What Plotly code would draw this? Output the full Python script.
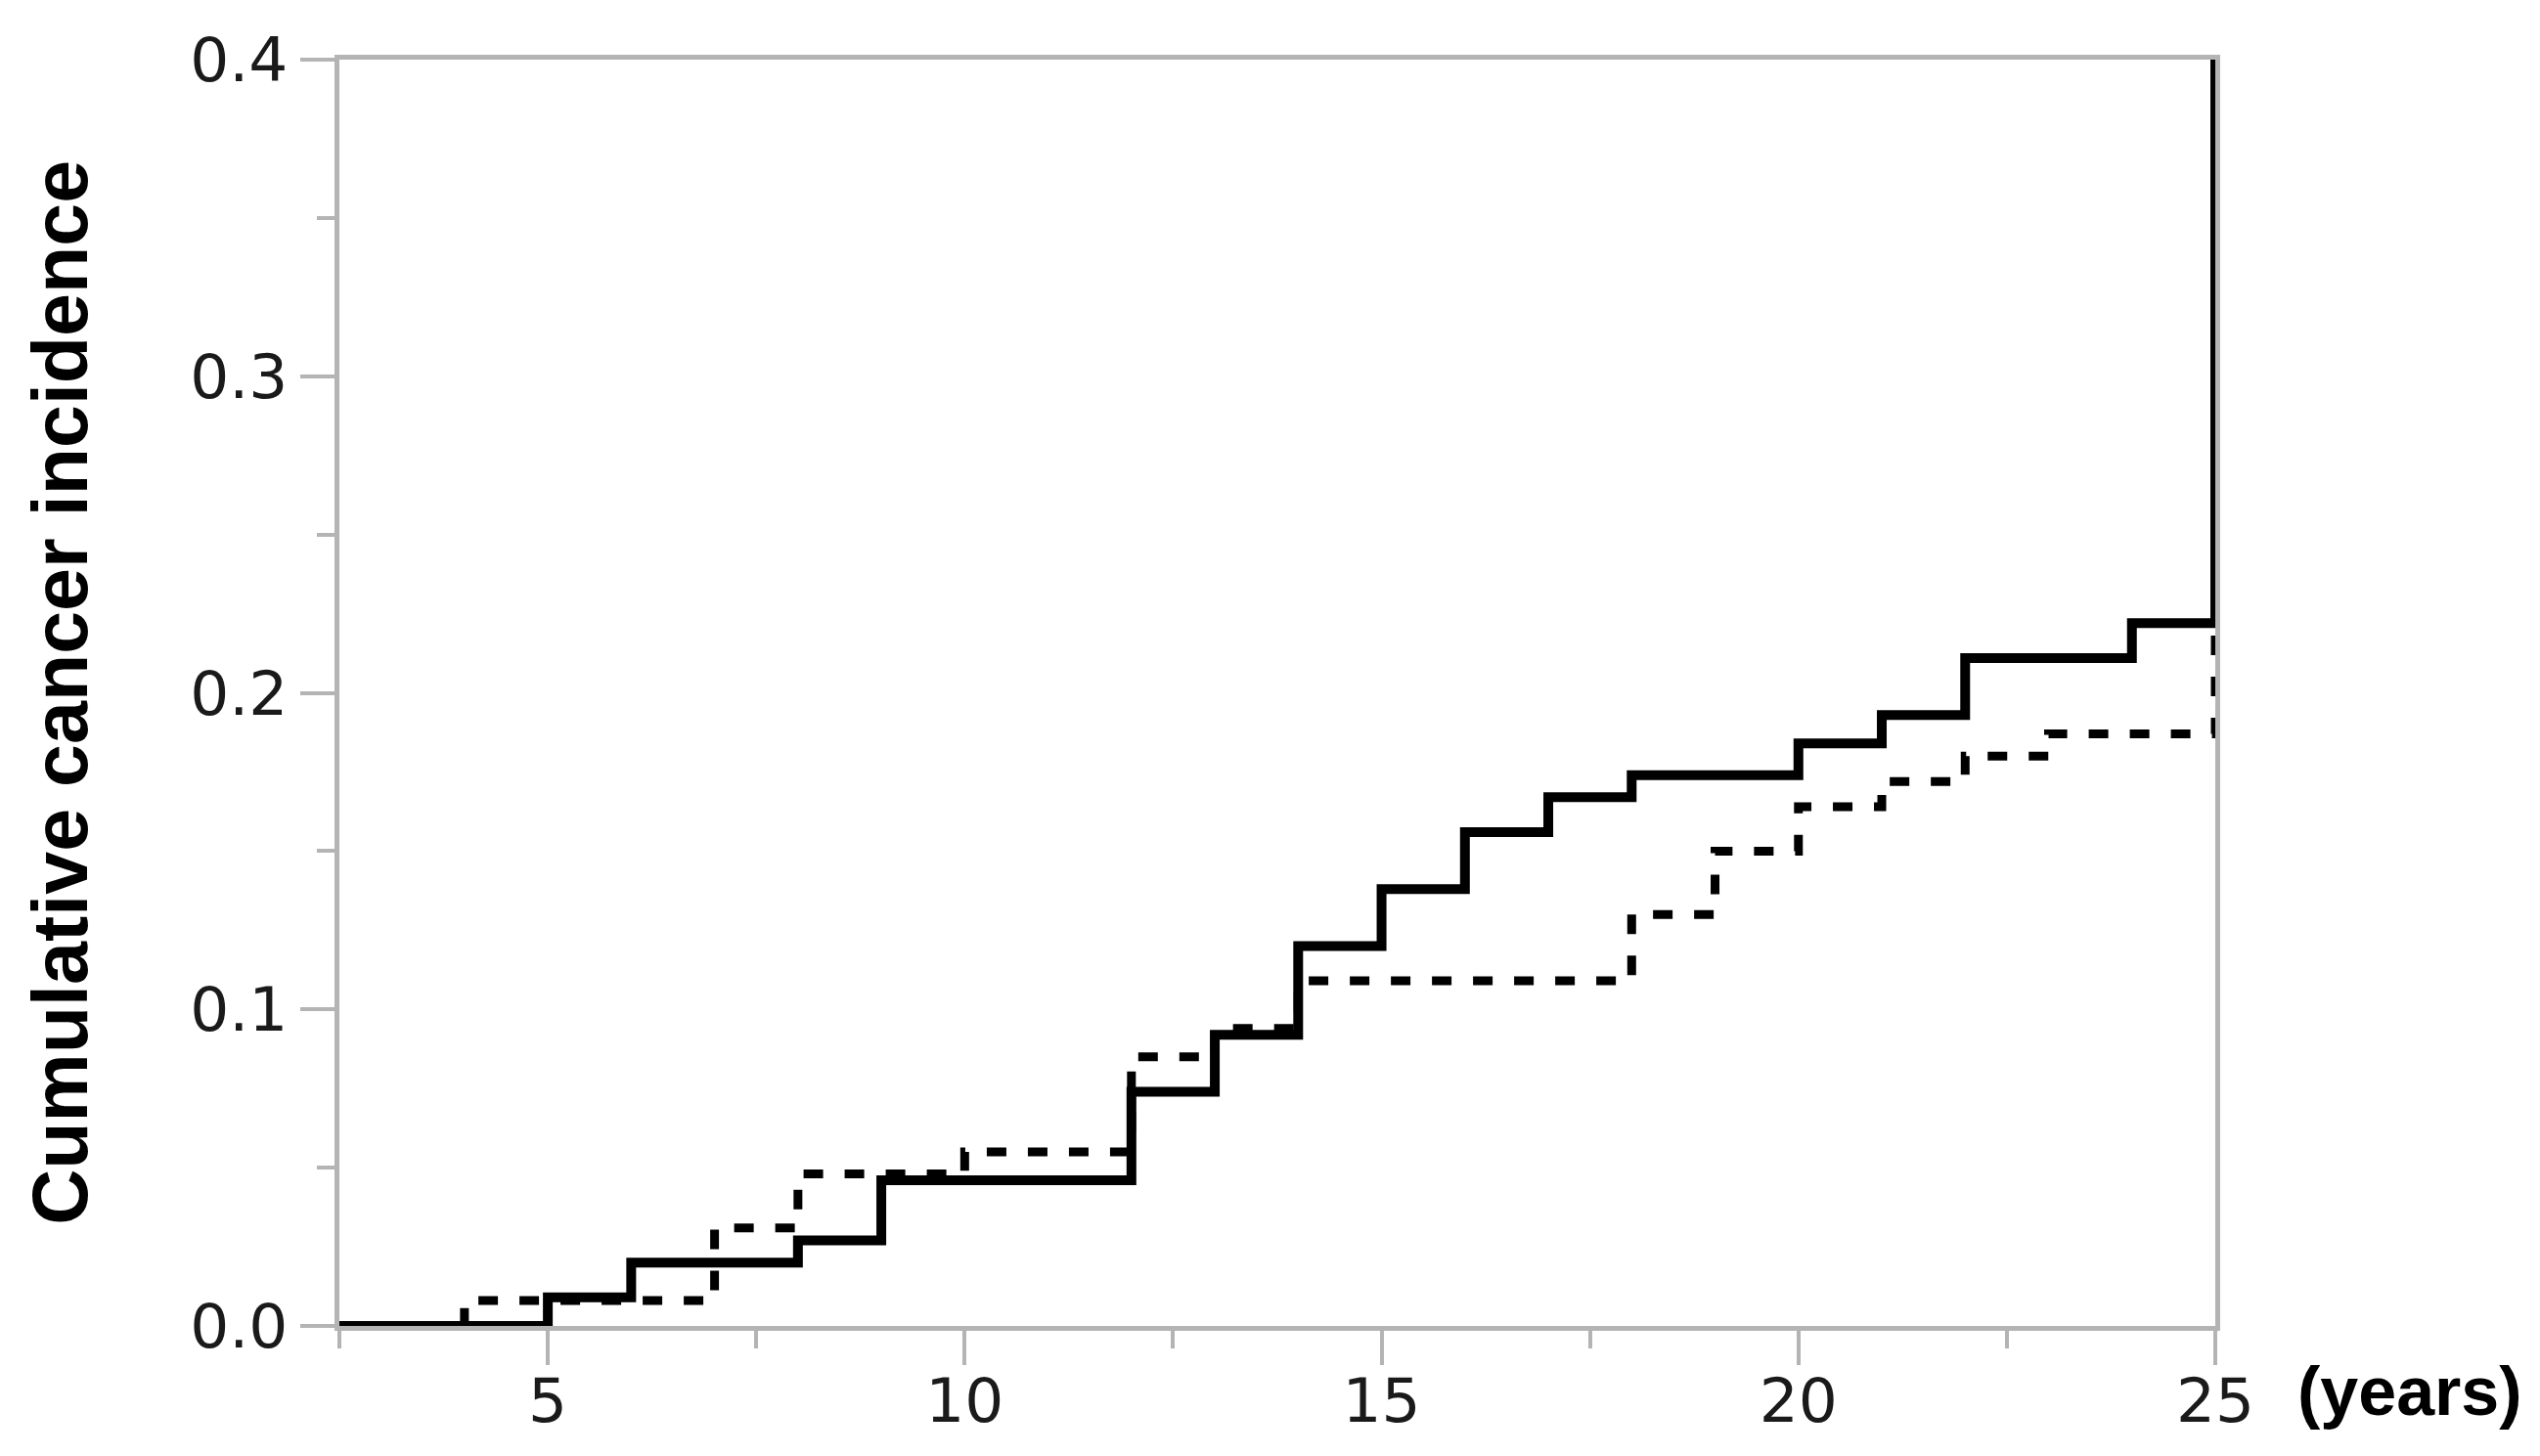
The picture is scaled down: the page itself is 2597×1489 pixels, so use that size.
import plotly.graph_objects as go

# step points (year of step, cumulative incidence after the step)
solid_years = [2.5, 5, 6, 8, 9, 12, 13, 14, 15, 16, 17, 18, 20, 21, 22, 24, 25]
solid_inc = [0.0, 0.009, 0.020, 0.027, 0.046, 0.074, 0.092, 0.120, 0.138, 0.156,
             0.167, 0.174, 0.184, 0.193, 0.211, 0.222, 0.4]

dashed_years = [2.5, 4, 7, 8, 10, 12, 13, 14, 18, 19, 20, 21, 22, 23, 25]
dashed_inc = [0.0, 0.008, 0.031, 0.048, 0.055, 0.085, 0.094, 0.109, 0.130, 0.150,
              0.164, 0.172, 0.180, 0.187, 0.222]

x_ticks = [5, 10, 15, 20, 25]
x_minor = [2.5, 7.5, 12.5, 17.5, 22.5]
y_ticks = [0.0, 0.1, 0.2, 0.3, 0.4]
y_minor = [0.05, 0.15, 0.25, 0.35]

axis_grey = '#b4b4b4'
tick_font = dict(family='DejaVu Sans', size=63, color='#1a1a1a')

fig = go.Figure()

fig.add_trace(go.Scatter(
    x=dashed_years, y=dashed_inc,
    mode='lines',
    line=dict(shape='hv', color='black', width=9, dash='20px,22px'),
    showlegend=False
))

fig.add_trace(go.Scatter(
    x=solid_years, y=solid_inc,
    mode='lines',
    line=dict(shape='hv', color='black', width=10),
    showlegend=False
))

fig.update_layout(
    width=2597, height=1489,
    margin=dict(l=339, r=340, t=53, b=141),
    paper_bgcolor='white', plot_bgcolor='white',
    xaxis=dict(
        range=[2.5, 25], tickmode='array', tickvals=x_ticks,
        showgrid=False, zeroline=False,
        showline=True, linecolor=axis_grey, linewidth=5, mirror=True,
        ticks='outside', ticklen=35, tickwidth=4, tickcolor=axis_grey,
        minor=dict(tickvals=x_minor, ticks='outside', ticklen=18, tickwidth=4, tickcolor=axis_grey),
        tickfont=tick_font, ticklabelstandoff=-18, layer='below traces'
    ),
    yaxis=dict(
        range=[0, 0.4], tickmode='array', tickvals=y_ticks, tickformat='.1f',
        showgrid=False, zeroline=False,
        showline=True, linecolor=axis_grey, linewidth=5, mirror=True,
        ticks='outside', ticklen=35, tickwidth=4, tickcolor=axis_grey,
        minor=dict(tickvals=y_minor, ticks='outside', ticklen=18, tickwidth=4, tickcolor=axis_grey),
        tickfont=tick_font, layer='below traces'
    ),
    annotations=[
        dict(text='Cumulative cancer incidence', textangle=-90,
             xref='paper', yref='paper', x=-0.149, y=0.5,
             xanchor='center', yanchor='middle', showarrow=False,
             font=dict(family='Liberation Sans', size=79, color='black', weight='bold')),
        dict(text='(years)',
             xref='paper', yref='paper', x=1.104, y=-0.052,
             xanchor='center', yanchor='middle', showarrow=False,
             font=dict(family='Liberation Sans', size=70, color='black', weight='bold')),
    ]
)

fig.write_html('out.html')
